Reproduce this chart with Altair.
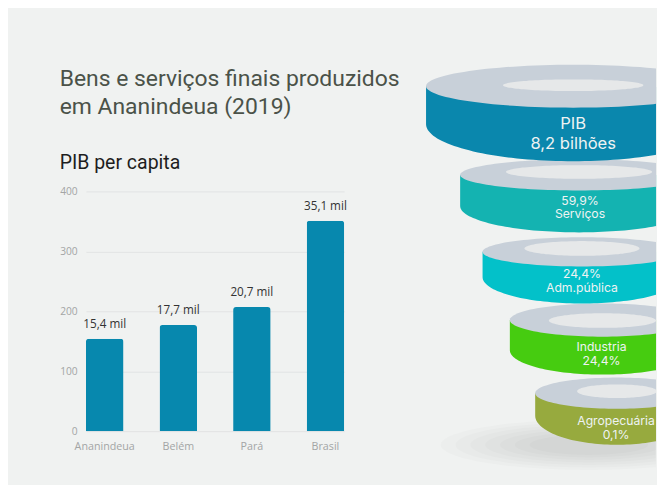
import math
import altair as alt
import pandas as pd

# ---------------- data ----------------
cities = ["Ananindeua", "Belém", "Pará", "Brasil"]
pib_per_capita = [154, 177, 207, 351]          # axis units (x100 R$)
pib_labels = ["15,4 mil", "17,7 mil", "20,7 mil", "35,1 mil"]
y_ticks = [0, 100, 200, 300, 400]

title_lines = ["Bens e serviços finais produzidos", "em Ananindeua (2019)"]
subtitle = "\u00a0PIB per capita"

funnel_keys = ["PIB", "Serviços", "Adm.pública", "Industria", "Agropecuária"]
funnel_texts = ["PIB\n8,2 bilhões", "59,9%\nServiços", "24,4%\nAdm.pública",
                "Industria\n24,4%", "Agropecuária\n0,1%"]

# ---------------- styles ----------------
BG = "#f0f2f1"
BAR = "#0788ae"
ring_colors = ["#0a87ad", "#14b3b1", "#03c1c9", "#46cc10", "#97aa3e"]
TOP = "#c8d0d9"
HOLE = "#e6e8e9"

# ---------------- funnel layout (page px) ----------------
ring_cx = [578, 584, 587, 608, 623]
ring_cy = [84, 175, 254, 324, 399]
ring_r = [151, 122, 102, 95, 84]
ring_ry_top = [22, 16, 15, 17, 16]
ring_cy_bottom = [123, 207, 280, 355, 422]
ring_ry_bottom = [38, 27, 27, 25, 30]
hole_cy = [83, 172, 250.5, 324.5, 397]
hole_rx = [72, 75, 59, 55, 41]
hole_ry = [6, 7, 7.5, 7.5, 7]
text_x = [578, 585, 587, 607, 622]
text_y = [123, 201.5, 277, 352, 428]   # first-line centres

shadow_cx, shadow_cy, shadow_r, shadow_ratio = 594, 452, 152, 0.17
shadow_steps = [1.0, 0.9, 0.8, 0.7, 0.6, 0.5, 0.4]

PAD_L, PAD_T = 52, 51
FL = 400            # page x of funnel view left
X_EDGE = 663        # page x of right edge
FW = X_EDGE - FL
FT = 192            # page y of plot tops (aligned)
FB = 487
FH = FB - FT


def f(v):
    s = f"{v:.3f}".rstrip("0").rstrip(".")
    return "0" if s in ("-0", "") else s


def ellipse_pts(cx, cy, rx, ry, n=120):
    return [(cx + rx * math.cos(2 * math.pi * k / n), cy + ry * math.sin(2 * math.pi * k / n))
            for k in range(n)]


def side_pts(hb, rb, n=80):
    pts = [(-1.0, 0.0)]
    for k in range(n + 1):
        t = math.pi - math.pi * k / n
        pts.append((math.cos(t), hb + rb * math.sin(t)))
    pts.append((1.0, 0.0))
    return pts


def clip_x(pts, xc):
    out = []
    n = len(pts)
    for i in range(n):
        a, b = pts[i], pts[(i + 1) % n]
        ina, inb = a[0] <= xc, b[0] <= xc
        if ina:
            out.append(a)
        if ina != inb:
            t = (xc - a[0]) / (b[0] - a[0])
            out.append((xc, a[1] + t * (b[1] - a[1])))
    return out


def poly_path(pts):
    return "M" + " L".join(f"{f(x)},{f(y)}" for x, y in pts) + " Z"


rows = []
for i in reversed(range(len(funnel_keys))):
    R = ring_r[i]
    xc = (X_EDGE - ring_cx[i]) / R
    parts = [
        ("side", side_pts((ring_cy_bottom[i] - ring_cy[i]) / R, ring_ry_bottom[i] / R), ring_colors[i]),
        ("top", ellipse_pts(0, 0, 1, ring_ry_top[i] / R), TOP),
        ("hole", ellipse_pts(0, (hole_cy[i] - ring_cy[i]) / R, hole_rx[i] / R, hole_ry[i] / R), HOLE),
    ]
    for name, pts, col in parts:
        rows.append(dict(part=f"{funnel_keys[i]}-{name}", cx=ring_cx[i], cy=ring_cy[i],
                         size=(2 * R) ** 2, shape=poly_path(clip_x(pts, xc)), fill=col))
rings_df = pd.DataFrame(rows)

shadow_rows = []
for s in shadow_steps:
    Rs = shadow_r * s
    xc = (X_EDGE - shadow_cx) / Rs
    shadow_rows.append(dict(cx=shadow_cx, cy=shadow_cy, size=(2 * Rs) ** 2,
                            shape=poly_path(clip_x(ellipse_pts(0, 0, 1, shadow_ratio), xc))))
shadow_df = pd.DataFrame(shadow_rows)

text_df = pd.DataFrame(dict(key=funnel_keys, label=funnel_texts, tx=text_x, ty=text_y))

# ---------------- bar chart ----------------
bar_df = pd.DataFrame(dict(cidade=cities, valor=pib_per_capita, rotulo=pib_labels))
base = alt.Chart(bar_df).encode(
    x=alt.X("cidade:N", sort=cities,
            scale=alt.Scale(paddingInner=0.49, paddingOuter=0),
            axis=alt.Axis(title=None, labelAngle=0, labelFont="Open Sans", labelFontSize=11,
                          labelColor="#a3a5a5", domain=False, ticks=False, labelPadding=10)),
    y=alt.Y("valor:Q", scale=alt.Scale(domain=[0, 400], nice=False),
            axis=alt.Axis(title=None, values=y_ticks, grid=True, gridColor="#e1e3e3",
                          domain=False, ticks=False, labelFont="Open Sans", labelFontSize=10.5,
                          labelColor="#a3a5a5", labelPadding=9)),
)
bars = base.mark_bar(color=BAR, cornerRadiusTopLeft=3, cornerRadiusTopRight=3)
vals = base.mark_text(baseline="middle", dy=-15, font="Open Sans", fontSize=12,
                      color="#333333").encode(text="rotulo:N")
bar_chart = alt.layer(bars, vals).properties(
    width=265, height=246,
    title=alt.TitleParams(text=title_lines, subtitle=subtitle, anchor="start", frame="bounds",
                          font="Roboto", fontSize=23.5, fontWeight="normal", color="#4b5249",
                          lineHeight=29, subtitleFont="Roboto", subtitleFontSize=20,
                          subtitleFontWeight="normal",
                          subtitleColor="#1e1e1e", subtitlePadding=36, offset=14, dx=0),
)

# ---------------- funnel ----------------
xs = alt.Scale(domain=[FL, X_EDGE], nice=False, zero=False)
ys = alt.Scale(domain=[FT, FB], nice=False, zero=False, reverse=True)

shadow = alt.Chart(shadow_df).mark_point(filled=True, opacity=0.015, color="#000000",
                                         strokeWidth=0).encode(
    x=alt.X("cx:Q", scale=xs, axis=None),
    y=alt.Y("cy:Q", scale=ys, axis=None),
    size=alt.Size("size:Q", scale=None),
    shape=alt.Shape("shape:N", scale=None),
)
rings = alt.Chart(rings_df).mark_point(filled=True, opacity=1, strokeWidth=0).encode(
    x=alt.X("cx:Q", scale=xs, axis=None),
    y=alt.Y("cy:Q", scale=ys, axis=None),
    size=alt.Size("size:Q", scale=None),
    shape=alt.Shape("shape:N", scale=None),
    color=alt.Color("fill:N", scale=None),
)
txt_big = alt.Chart(text_df.iloc[:1]).mark_text(
    font="Inter", fontSize=17, lineHeight=20, color="#eef3f3", baseline="middle", align="center",
    lineBreak="\n").encode(
    x=alt.X("tx:Q", scale=xs, axis=None), y=alt.Y("ty:Q", scale=ys, axis=None), text="label:N")
txt_small = alt.Chart(text_df.iloc[1:]).mark_text(
    font="Inter", fontSize=12.5, lineHeight=14, color="#eef3f3", baseline="middle", align="center",
    lineBreak="\n").encode(
    x=alt.X("tx:Q", scale=xs, axis=None), y=alt.Y("ty:Q", scale=ys, axis=None), text="label:N")

funnel = alt.layer(shadow, rings, txt_big, txt_small).properties(width=FW, height=FH)

chart = alt.hconcat(bar_chart, funnel, spacing=0).properties(
    background=BG,
    padding={"left": PAD_L, "top": PAD_T, "right": 0, "bottom": 0},
).configure_view(stroke=None)

chart.save("out.html", embed_options={"renderer": "svg", "actions": False})
